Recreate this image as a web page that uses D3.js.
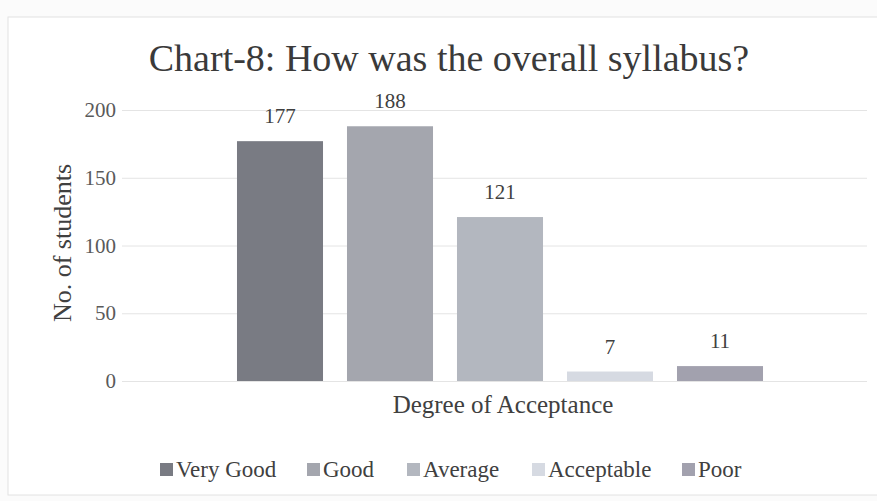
<!DOCTYPE html>
<html>
<head>
<meta charset="utf-8">
<title>Chart-8: How was the overall syllabus?</title>
<style>
  body { margin: 0; background: #fbfbfb; }
  text { font-family: "Liberation Serif", "DejaVu Serif", serif; }
</style>
</head>
<body>
<script src="https://d3js.org/d3.v7.min.js"></script>
<script>
// data
var categories = ["Very Good", "Good", "Average", "Acceptable", "Poor"];
var counts = [177, 188, 121, 7, 11];
var colors = ["#797b83", "#a4a6ae", "#b3b7bf", "#d6dae2", "#a2a1ae"];
var yTicks = [0, 50, 100, 150, 200];

var W = 877, H = 501;

var svg = d3.select("body").append("svg")
    .attr("width", W)
    .attr("height", H);

// chart frame
svg.append("rect")
    .attr("x", 8).attr("y", 17)
    .attr("width", 880).attr("height", 478)
    .attr("fill", "#ffffff")
    .attr("stroke", "#e2e2e2");

var x = d3.scaleBand()
    .domain(categories)
    .range([225, 775])
    .paddingInner(0.218)
    .paddingOuter(0.109);

var y = d3.scaleLinear()
    .domain([0, 200])
    .range([381, 110]);

// gridlines + tick labels
var yAxis = svg.append("g")
    .attr("transform", "translate(122,0)")
    .call(d3.axisLeft(y).tickValues(yTicks).tickSize(-745).tickPadding(4));
yAxis.select(".domain").remove();
yAxis.selectAll(".tick line").attr("stroke", "#e4e4e4");
yAxis.selectAll(".tick text")
    .attr("fill", "#5a5a5a")
    .style("font-size", "21px")
    .attr("dx", -2);

// bars
svg.selectAll(".bar")
    .data(counts)
  .enter().append("rect")
    .attr("class", "bar")
    .attr("x", function(d, i) { return x(categories[i]); })
    .attr("y", function(d) { return y(d); })
    .attr("width", x.bandwidth())
    .attr("height", function(d) { return y(0) - y(d); })
    .attr("fill", function(d, i) { return colors[i]; });

// value labels
svg.selectAll(".lbl")
    .data(counts)
  .enter().append("text")
    .attr("class", "lbl")
    .attr("x", function(d, i) { return x(categories[i]) + x.bandwidth() / 2; })
    .attr("y", function(d) { return y(d) - 18; })
    .attr("text-anchor", "middle")
    .attr("fill", "#404040")
    .style("font-size", "21px")
    .text(function(d) { return d; });

// title
svg.append("text")
    .attr("x", 449).attr("y", 71)
    .attr("text-anchor", "middle")
    .attr("fill", "#3a3a3a")
    .style("font-size", "38px")
    .text("Chart-8: How was the overall syllabus?");

// axis titles
svg.append("text")
    .attr("x", 503).attr("y", 413)
    .attr("text-anchor", "middle")
    .attr("fill", "#404040")
    .style("font-size", "25px")
    .text("Degree of Acceptance");

svg.append("text")
    .attr("transform", "translate(71,243) rotate(-90)")
    .attr("text-anchor", "middle")
    .attr("fill", "#404040")
    .style("font-size", "26px")
    .text("No. of students");

// legend
var legendX = [160, 307, 407, 532, 682];
var leg = svg.selectAll(".leg")
    .data(categories)
  .enter().append("g")
    .attr("class", "leg")
    .attr("transform", function(d, i) { return "translate(" + legendX[i] + ",470)"; });
leg.append("rect")
    .attr("x", 0).attr("y", -7)
    .attr("width", 13).attr("height", 13)
    .attr("fill", function(d, i) { return colors[i]; });
leg.append("text")
    .attr("x", 16).attr("y", 7)
    .attr("fill", "#404040")
    .style("font-size", "23px")
    .text(function(d) { return d; });
</script>
</body>
</html>
